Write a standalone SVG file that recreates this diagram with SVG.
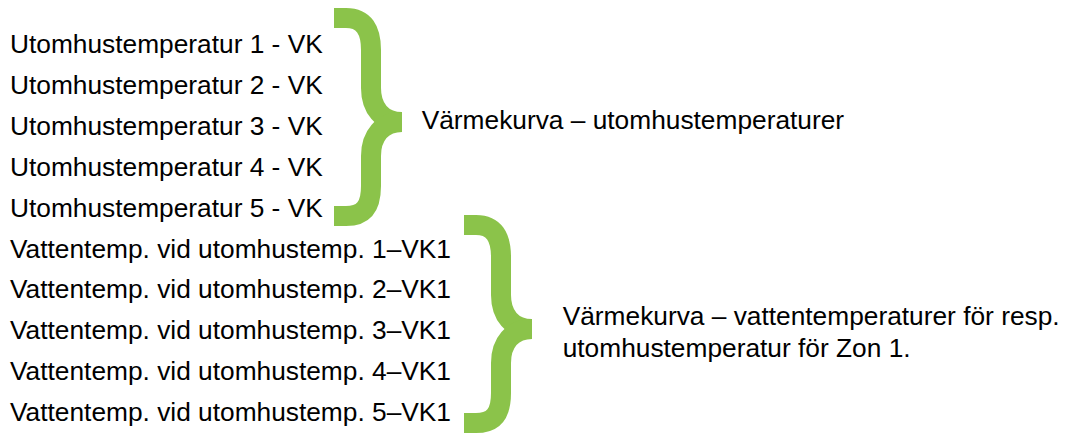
<svg xmlns="http://www.w3.org/2000/svg" width="1066" height="434" viewBox="0 0 1066 434">
<style>
.t{font-family:"Liberation Sans",Arial,sans-serif;font-size:26.3px;fill:#000}
.br{fill:none;stroke:#8BC34A;stroke-width:20;stroke-linecap:butt;stroke-linejoin:round}
</style>
<defs>
<g id="brace">
<path class="br" d="M334,18 H346 C364,18 371,30 371,50 V88 C371,108 382,122 402,122"/>
<path class="br" d="M402,122 C382,122 371,136 371,156 V186 C371,206 364,216 346,216 H334"/>
</g>
</defs>
<g id="left-labels">
<text class="t" x="10" y="53">Utomhustemperatur 1 - VK</text>
<text class="t" x="10" y="93.9">Utomhustemperatur 2 - VK</text>
<text class="t" x="10" y="134.8">Utomhustemperatur 3 - VK</text>
<text class="t" x="10" y="175.7">Utomhustemperatur 4 - VK</text>
<text class="t" x="10" y="216.6">Utomhustemperatur 5 - VK</text>
<text class="t" x="10" y="257.5">Vattentemp. vid utomhustemp. 1–VK1</text>
<text class="t" x="10" y="298.4">Vattentemp. vid utomhustemp. 2–VK1</text>
<text class="t" x="10" y="339.3">Vattentemp. vid utomhustemp. 3–VK1</text>
<text class="t" x="10" y="380.2">Vattentemp. vid utomhustemp. 4–VK1</text>
<text class="t" x="10" y="421.1">Vattentemp. vid utomhustemp. 5–VK1</text>
</g>
<g id="connectors">
<use id="brace1" href="#brace"/>
<use id="brace2" href="#brace" transform="translate(130,207)"/>
</g>
<g id="label-outdoor">
<text class="t" x="421.7" y="129.3">Värmekurva – utomhustemperaturer</text>
</g>
<g id="label-water">
<text class="t" x="562.7" y="325">Värmekurva – vattentemperaturer för resp.</text>
<text class="t" x="562.7" y="356.7">utomhustemperatur för Zon 1.</text>
</g>
</svg>
